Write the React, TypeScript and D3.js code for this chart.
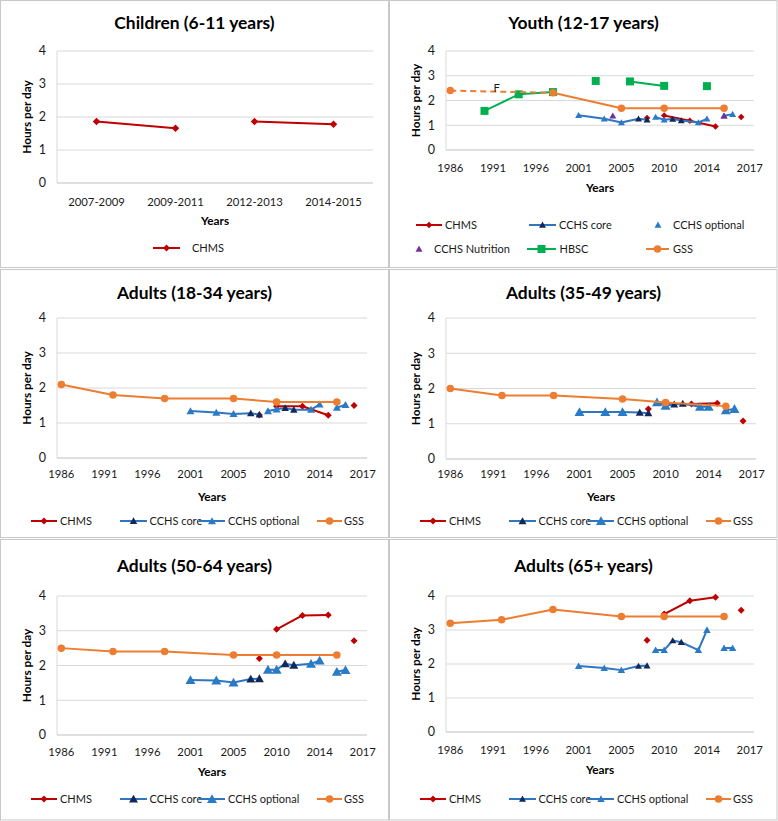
import React from "react";
import * as d3 from "d3";

const FONT = "Lato, 'Liberation Sans', sans-serif";

// ---------- DATA ----------
const childCategories = ["2007-2009", "2009-2011", "2012-2013", "2014-2015"];
const childCHMS = [1.86, 1.66, 1.86, 1.78];
const childRuns = [[0, 1], [2, 3]];

const yearCategories = [
  "1986", "1987", "1988", "1989", "1990", "1991", "1992", "1993", "1994", "1995",
  "1996", "1997", "1998", "1999", "2000", "2001", "2001-2002", "2002", "2003", "2004",
  "2005", "2006", "2007", "2008", "2009", "2010", "2011", "2012", "2012-2013", "2013",
  "2014", "2014-2015", "2015", "2016", "2016-2017", "2017",
];
const yearTickLabels = ["1986", "1991", "1996", "2001", "2005", "2010", "2014", "2017"];
const yLevels = [0, 1, 2, 3, 4];

const gssYears = ["1986", "1992", "1998", "2005", "2010", "2015"];
const gssYouth = [2.4, null, 2.31, 1.69, 1.69, 1.69];
const gss18to34 = [2.1, 1.8, 1.7, 1.7, 1.6, 1.6];
const gss35to49 = [2.0, 1.8, 1.8, 1.7, 1.6, 1.5];
const gss50to64 = [2.5, 2.4, 2.4, 2.3, 2.3, 2.3];
const gss65plus = [3.2, 3.3, 3.6, 3.4, 3.4, 3.4];
const gssRuns = [[0, 1, 2, 3, 4, 5]];
const gssYouthRuns = [[2, 3, 4, 5]];
const gssYouthDashed = [[0, 2]];
const gssYouthFlag = { year: "1992", label: "F" };

const chmsYears = ["2008", "2010", "2012-2013", "2014-2015", "2016-2017"];
const chmsYouth = [1.29, 1.39, 1.18, 0.95, 1.33];
const chms18to34 = [1.23, 1.48, 1.48, 1.22, 1.5];
const chms35to49 = [1.42, 1.55, 1.56, 1.58, 1.08];
const chms50to64 = [2.2, 3.04, 3.44, 3.45, 2.71];
const chms65plus = [2.7, 3.47, 3.86, 3.96, 3.58];
const chmsRuns = [[0], [1, 2, 3], [4]];

const cchsYears = ["2001", "2003", "2005", "2007", "2008", "2009", "2010", "2011", "2012", "2013", "2014", "2015", "2016"];
const cchsCoreYears = ["2007", "2008", "2011", "2012"];
const cchsYouth = [1.4, 1.26, 1.11, 1.26, 1.22, 1.33, 1.22, 1.25, 1.19, 1.11, 1.26, 1.38, 1.45];
const cchs18to34 = [1.34, 1.3, 1.26, 1.28, 1.24, 1.34, 1.39, 1.43, 1.38, 1.38, 1.53, 1.44, 1.52];
const cchs35to49 = [1.33, 1.33, 1.33, 1.32, 1.3, 1.61, 1.51, 1.55, 1.57, 1.48, 1.48, 1.38, 1.42];
const cchs50to64 = [1.58, 1.57, 1.51, 1.61, 1.62, 1.88, 1.88, 2.05, 2.01, 2.05, 2.14, 1.82, 1.87];
const cchs65plus = [1.94, 1.88, 1.82, 1.94, 1.95, 2.41, 2.41, 2.69, 2.64, 2.41, 3.0, 2.47, 2.47];
const cchsRuns = [[0, 1, 2, 3, 4], [5, 6, 7, 8, 9, 10], [11, 12]];

const nutritionYears = ["2004", "2015"];
const nutritionYouth = [1.38, 1.38];

const hbscYears = ["1990", "1994", "1998", "2002", "2006", "2010", "2014"];
const hbscYouth = [1.58, 2.25, 2.34, 2.79, 2.77, 2.59, 2.58];
const hbscRuns = [[0, 1, 2], [3], [4, 5], [6]];

// ---------- STYLE ----------
const C_CHMS = "#c00000";
const C_CORE = "#13285a";
const C_OPT = "#2a7bc6";
const C_LINE = "#2e77c0";
const C_GSS = "#ed7d31";
const C_HBSC = "#00b050";
const C_NUTR = "#7030a0";
const TXT = "#1a1a1a";
const FS_TITLE = 17.4;
const FS_TICK = 11.3;
const FS_YTICK = 12.5;
const FS_AXIS = 11.8;
const FS_LEG = 11;

type Layer = {
  cats: string[];
  values: (number | null)[];
  runs?: number[][];
  dashed?: number[][];
  lineColor?: string;
  marker?: string;
  markerColor?: string;
  size?: number;
  only?: (c: string) => boolean;
};

function markerPath(kind: string, s: number): string {
  if (kind === "diamond") return `M0,${-s / 2}L${s / 2},0L0,${s / 2}L${-s / 2},0Z`;
  if (kind === "triangle") {
    const h = s * 0.88;
    return `M0,${-h * 0.55}L${s / 2},${h * 0.45}L${-s / 2},${h * 0.45}Z`;
  }
  if (kind === "square") return `M${-s / 2},${-s / 2}h${s}v${s}h${-s}Z`;
  return d3.symbol(d3.symbolCircle, Math.PI * (s / 2) * (s / 2))() || "";
}

type LegendItem = { label: string; color: string; marker: string; mColor: string; size: number; line?: [number, number]; mx?: number; tx: number; row: number };

type Layout = {
  ox: number; oy: number; left: number; right: number; top: number; bottom: number;
  titleY: number; tickY: number; yearsY: number; legendY: number[];
};

function Panel(props: {
  L: Layout; title: string; categories: string[]; tickCats: string[]; tickLabels: string[];
  layers: Layer[]; legend: LegendItem[]; flag?: { year: string; label: string; value: number };
}) {
  const { L, title, categories, tickCats, tickLabels, layers, legend, flag } = props;
  const x = d3.scaleBand<string>().domain(categories).range([L.left, L.right]).padding(0);
  const cx = (c: string) => (x(c) ?? 0) + x.bandwidth() / 2;
  const y = d3.scaleLinear().domain([0, 4]).range([L.bottom, L.top]);
  const lineGen = d3.line<[string, number]>().x((d) => cx(d[0])).y((d) => y(d[1]));

  const runPts = (ly: Layer, run: number[]) =>
    run.filter((i) => ly.values[i] != null).map((i) => [ly.cats[i], ly.values[i] as number] as [string, number]);

  return (
    <g transform={`translate(${L.ox},${L.oy})`}>
      <text x={194.5} y={L.titleY} dy="0.35em" textAnchor="middle" fontWeight="bold" fontSize={FS_TITLE} fill="#000">
        {title}
      </text>
      {yLevels.map((t) => (
        <line key={"g" + t} x1={L.left} x2={L.right} y1={y(t)} y2={y(t)} stroke={t === 0 ? "#bfbfbf" : "#d9d9d9"} strokeWidth={1} />
      ))}
      <line x1={L.left} x2={L.left} y1={L.top} y2={L.bottom} stroke="#d9d9d9" />
      {yLevels.map((t) => (
        <text key={"yt" + t} x={L.left - 11} y={y(t)} dy="0.35em" textAnchor="end" fontSize={FS_YTICK} fill={TXT}>
          {t}
        </text>
      ))}
      <text
        transform={`translate(27,${(L.top + L.bottom) / 2}) rotate(-90)`}
        textAnchor="middle"
        dy="0.35em"
        fontWeight="bold"
        fontSize={FS_AXIS}
        fill="#000"
      >
        Hours per day
      </text>
      {tickCats.map((c, i) => (
        <text key={"xt" + c} x={cx(c)} y={L.tickY} dy="0.35em" textAnchor="middle" fontSize={FS_TICK} fill={TXT}>
          {tickLabels[i]}
        </text>
      ))}
      <text x={(L.left + L.right) / 2} y={L.yearsY} dy="0.35em" textAnchor="middle" fontWeight="bold" fontSize={FS_AXIS} fill="#000">
        Years
      </text>
      {layers.map((ly, li) => (
        <g key={"l" + li}>
          {(ly.dashed || []).map((run, ri) => (
            <path key={"d" + ri} d={lineGen(runPts(ly, run)) || ""} fill="none" stroke={ly.lineColor} strokeWidth={2} strokeDasharray="6,4" />
          ))}
          {ly.lineColor &&
            (ly.runs || []).map((run, ri) =>
              run.length > 1 ? (
                <path key={"r" + ri} d={lineGen(runPts(ly, run)) || ""} fill="none" stroke={ly.lineColor} strokeWidth={2} strokeLinejoin="round" />
              ) : null
            )}
          {ly.marker &&
            ly.cats.map((c, i) =>
              ly.values[i] == null || (ly.only && !ly.only(c)) ? null : (
                <path
                  key={"m" + i}
                  transform={`translate(${cx(c)},${y(ly.values[i] as number)})`}
                  d={markerPath(ly.marker as string, ly.size || 6)}
                  fill={ly.markerColor}
                />
              )
            )}
        </g>
      ))}
      {flag && (
        <text x={cx(flag.year) - 5} y={y(flag.value)} textAnchor="middle" fontSize={FS_TICK} fill={TXT}>
          {flag.label}
        </text>
      )}
      {legend.map((it, i) => {
        const ly = L.legendY[it.row];
        const mx = it.line ? (it.line[0] + it.line[1]) / 2 : (it.mx as number);
        return (
          <g key={"lg" + i}>
            {it.line && <line x1={it.line[0]} x2={it.line[1]} y1={ly} y2={ly} stroke={it.color} strokeWidth={2} />}
            <path transform={`translate(${mx},${ly})`} d={markerPath(it.marker, it.size)} fill={it.mColor} />
            <text x={it.tx} y={ly} dy="0.35em" fontSize={FS_LEG} fill={TXT}>
              {it.label}
            </text>
          </g>
        );
      })}
    </g>
  );
}

const L_CHILD: Layout = { ox: 0, oy: 0, left: 57, right: 373, top: 51, bottom: 183, titleY: 23, tickY: 202, yearsY: 221, legendY: [248] };
const L_YOUTH: Layout = { ox: 389, oy: 0, left: 57, right: 365, top: 51, bottom: 150, titleY: 23, tickY: 168, yearsY: 188, legendY: [225, 249] };
const L_A18: Layout = { ox: 0, oy: 270, left: 57, right: 367, top: 48, bottom: 188, titleY: 23, tickY: 204, yearsY: 227, legendY: [251] };
const L_A35: Layout = { ox: 389, oy: 270, left: 57, right: 367, top: 48, bottom: 189, titleY: 23, tickY: 204, yearsY: 227, legendY: [251] };
const L_A50: Layout = { ox: 0, oy: 540, left: 57, right: 367, top: 56, bottom: 195, titleY: 26, tickY: 212, yearsY: 232, legendY: [259] };
const L_A65: Layout = { ox: 389, oy: 540, left: 57, right: 365, top: 56, bottom: 192, titleY: 26, tickY: 210, yearsY: 230, legendY: [259] };

const isCore = (c: string) => cchsCoreYears.includes(c);
const isOpt = (c: string) => !cchsCoreYears.includes(c);

function adultLayers(gss: number[], chms: number[], cchs: number[], optSize: number, coreSize: number): Layer[] {
  return [
    { cats: chmsYears, values: chms, runs: chmsRuns, lineColor: C_CHMS, marker: "diamond", markerColor: C_CHMS, size: 7 },
    { cats: cchsYears, values: cchs, runs: cchsRuns, lineColor: C_LINE },
    { cats: cchsYears, values: cchs, marker: "triangle", markerColor: C_CORE, size: coreSize, only: isCore },
    { cats: cchsYears, values: cchs, marker: "triangle", markerColor: C_OPT, size: optSize, only: isOpt },
    { cats: gssYears, values: gss, runs: gssRuns, lineColor: C_GSS, marker: "circle", markerColor: C_GSS, size: 7.5 },
  ];
}

function adultLegend(optSize: number, coreSize: number): LegendItem[] {
  return [
    { label: "CHMS", color: C_CHMS, marker: "diamond", mColor: C_CHMS, size: 7, line: [31, 57], tx: 60, row: 0 },
    { label: "CCHS core", color: C_LINE, marker: "triangle", mColor: C_CORE, size: coreSize, line: [120, 147], tx: 149.5, row: 0 },
    { label: "CCHS optional", color: C_LINE, marker: "triangle", mColor: C_OPT, size: optSize, line: [199, 225], tx: 228, row: 0 },
    { label: "GSS", color: C_GSS, marker: "circle", mColor: C_GSS, size: 7.5, line: [317, 342], tx: 344, row: 0 },
  ];
}

const yearTickCats = yearTickLabels;

export default function App() {
  const youthLayers: Layer[] = [
    { cats: chmsYears, values: chmsYouth, runs: chmsRuns, lineColor: C_CHMS, marker: "diamond", markerColor: C_CHMS, size: 6.5 },
    { cats: cchsYears, values: cchsYouth, runs: cchsRuns, lineColor: C_LINE },
    { cats: cchsYears, values: cchsYouth, marker: "triangle", markerColor: C_CORE, size: 7, only: isCore },
    { cats: cchsYears, values: cchsYouth, marker: "triangle", markerColor: C_OPT, size: 7, only: isOpt },
    { cats: nutritionYears, values: nutritionYouth, marker: "triangle", markerColor: C_NUTR, size: 7 },
    { cats: hbscYears, values: hbscYouth, runs: hbscRuns, lineColor: C_HBSC, marker: "square", markerColor: C_HBSC, size: 8 },
    { cats: gssYears, values: gssYouth, runs: gssYouthRuns, dashed: gssYouthDashed, lineColor: C_GSS, marker: "circle", markerColor: C_GSS, size: 7.5 },
  ];
  const youthLegend: LegendItem[] = [
    { label: "CHMS", color: C_CHMS, marker: "diamond", mColor: C_CHMS, size: 6.5, line: [27, 53], tx: 56, row: 0 },
    { label: "CCHS core", color: C_LINE, marker: "triangle", mColor: C_CORE, size: 7, line: [140, 167], tx: 170, row: 0 },
    { label: "CCHS optional", color: C_OPT, marker: "triangle", mColor: C_OPT, size: 7, mx: 269, tx: 284, row: 0 },
    { label: "CCHS Nutrition", color: C_NUTR, marker: "triangle", mColor: C_NUTR, size: 7, mx: 30, tx: 45, row: 1 },
    { label: "HBSC", color: C_HBSC, marker: "square", mColor: C_HBSC, size: 8, line: [138, 167], tx: 170.5, row: 1 },
    { label: "GSS", color: C_GSS, marker: "circle", mColor: C_GSS, size: 7.5, line: [257, 280], tx: 284, row: 1 },
  ];
  const flagIdx = gssYears.indexOf(gssYouthFlag.year);
  const flagValue = ((gssYouth[flagIdx - 1] as number) + (gssYouth[flagIdx + 1] as number)) / 2;

  return (
    <svg width={778} height={821} style={{ position: "absolute", left: 0, top: 0 }} fontFamily={FONT}>
      <rect width={778} height={821} fill="#fff" />
      <rect x={0.5} y={0.5} width={388} height={267} fill="none" stroke="#c8c8c8" />
      <rect x={389.5} y={0.5} width={387.5} height={267} fill="none" stroke="#c8c8c8" />
      <rect x={0.5} y={269.5} width={388} height={268} fill="none" stroke="#c8c8c8" />
      <rect x={389.5} y={269.5} width={387.5} height={268} fill="none" stroke="#c8c8c8" />
      <rect x={0.5} y={539.5} width={388} height={280.5} fill="none" stroke="#c8c8c8" />
      <rect x={389.5} y={539.5} width={387.5} height={280.5} fill="none" stroke="#c8c8c8" />

      <Panel
        L={L_CHILD}
        title="Children (6-11 years)"
        categories={childCategories}
        tickCats={childCategories}
        tickLabels={childCategories}
        layers={[{ cats: childCategories, values: childCHMS, runs: childRuns, lineColor: C_CHMS, marker: "diamond", markerColor: C_CHMS, size: 7.5 }]}
        legend={[{ label: "CHMS", color: C_CHMS, marker: "diamond", mColor: C_CHMS, size: 7, line: [153, 180], tx: 192, row: 0 }]}
      />
      <Panel
        L={L_YOUTH}
        title="Youth (12-17 years)"
        categories={yearCategories}
        tickCats={yearTickCats}
        tickLabels={yearTickLabels}
        layers={youthLayers}
        legend={youthLegend}
        flag={{ year: gssYouthFlag.year, label: gssYouthFlag.label, value: flagValue }}
      />
      <Panel
        L={L_A18}
        title="Adults (18-34 years)"
        categories={yearCategories}
        tickCats={yearTickCats}
        tickLabels={yearTickLabels}
        layers={adultLayers(gss18to34, chms18to34, cchs18to34, 8, 7.5)}
        legend={adultLegend(8, 7.5)}
      />
      <Panel
        L={L_A35}
        title="Adults (35-49 years)"
        categories={yearCategories}
        tickCats={yearTickCats}
        tickLabels={yearTickLabels}
        layers={adultLayers(gss35to49, chms35to49, cchs35to49, 10, 8)}
        legend={adultLegend(10, 8)}
      />
      <Panel
        L={L_A50}
        title="Adults (50-64 years)"
        categories={yearCategories}
        tickCats={yearTickCats}
        tickLabels={yearTickLabels}
        layers={adultLayers(gss50to64, chms50to64, cchs50to64, 10, 9)}
        legend={adultLegend(10, 9)}
      />
      <Panel
        L={L_A65}
        title="Adults (65+ years)"
        categories={yearCategories}
        tickCats={yearTickCats}
        tickLabels={yearTickLabels}
        layers={adultLayers(gss65plus, chms65plus, cchs65plus, 7.5, 7)}
        legend={adultLegend(7.5, 7)}
      />
    </svg>
  );
}
